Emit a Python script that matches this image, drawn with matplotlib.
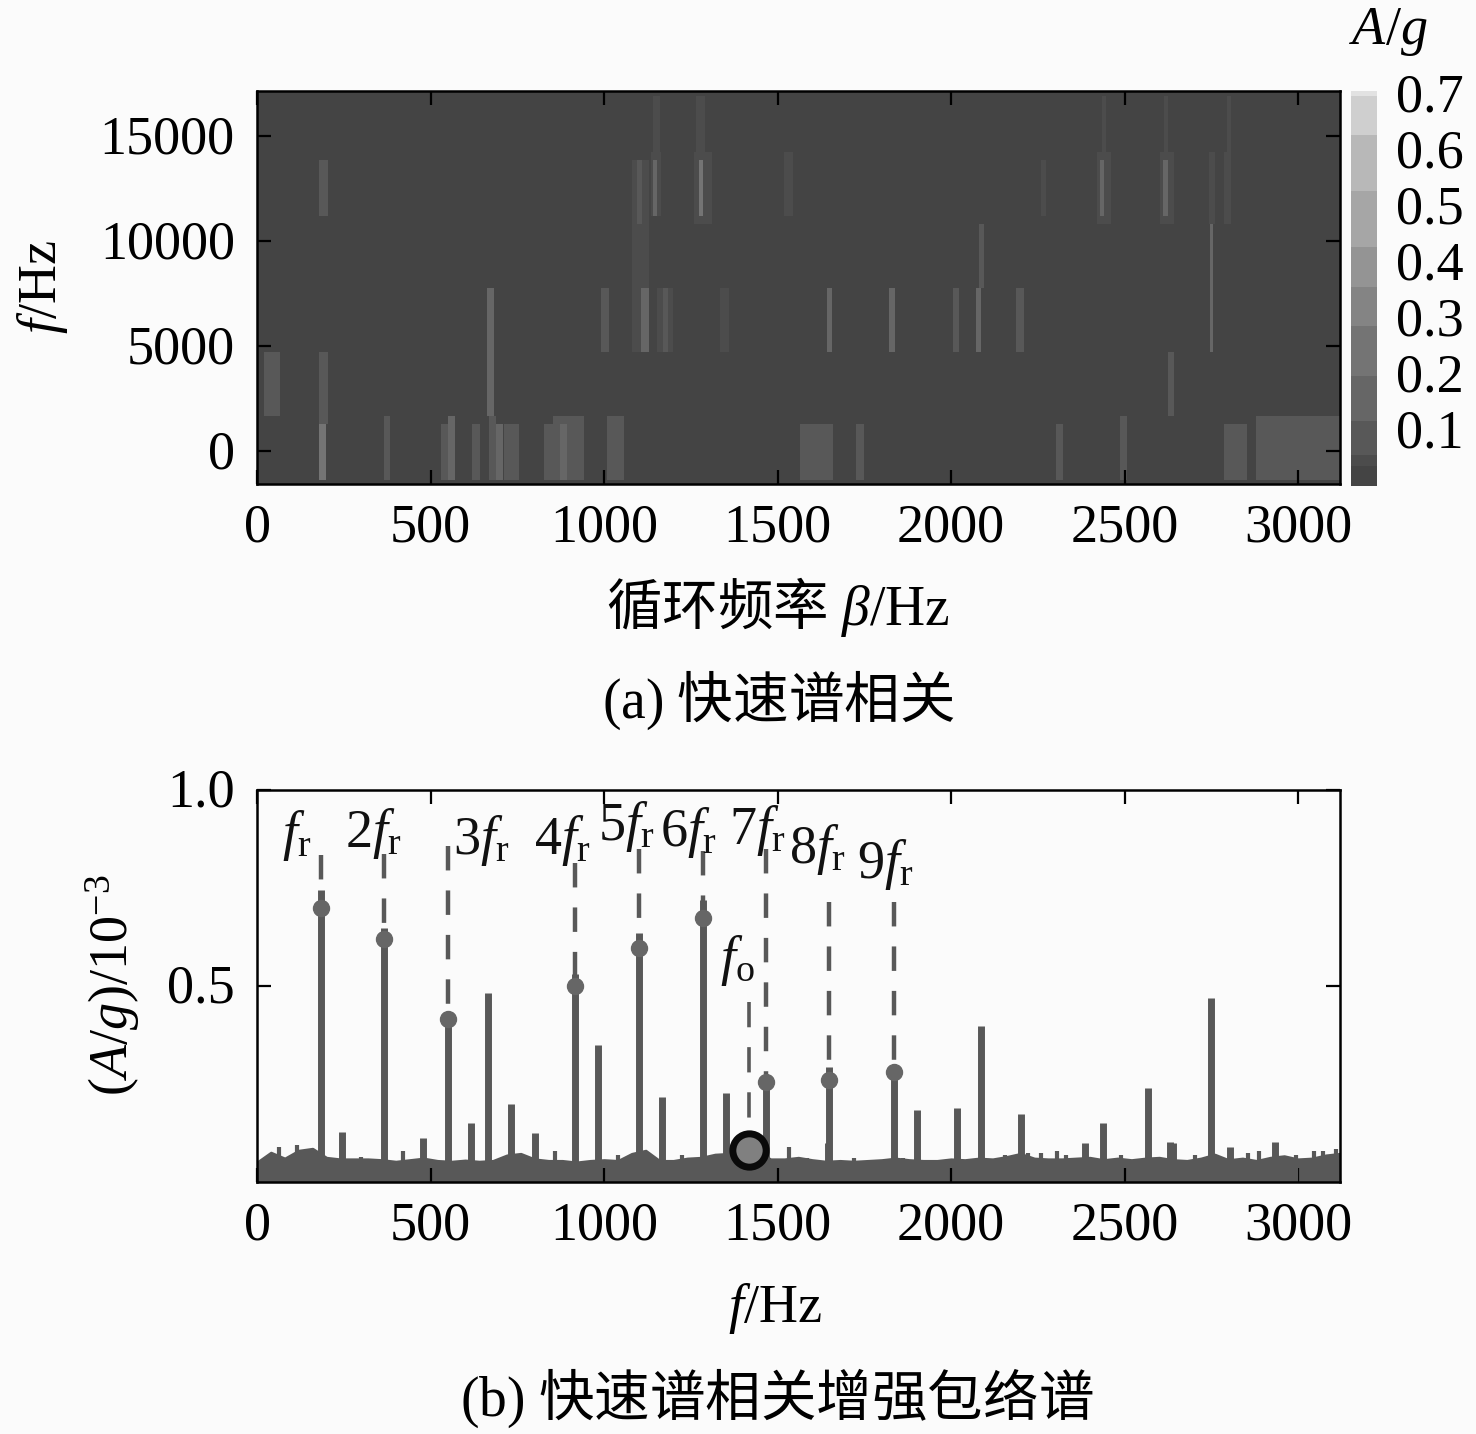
import numpy as np
import matplotlib
matplotlib.use("Agg")
import matplotlib.pyplot as plt
from matplotlib.colors import ListedColormap, BoundaryNorm
from matplotlib.transforms import ScaledTranslation

plt.rcParams['font.family'] = ['Liberation Serif', 'Noto Sans CJK SC']
plt.rcParams['mathtext.fontset'] = 'custom'
plt.rcParams['mathtext.rm'] = 'Liberation Serif'
plt.rcParams['mathtext.it'] = 'Liberation Serif:italic'
plt.rcParams['mathtext.sf'] = 'Noto Sans CJK SC'
plt.rcParams['mathtext.default'] = 'regular'
plt.rcParams['axes.unicode_minus'] = False

# ---------- colour scale ----------
level_edges = [0.0, 0.04, 0.06, 0.12, 0.20, 0.29, 0.36, 0.43, 0.53, 0.63, 0.70, 0.71]
level_greys = ['#444444', '#4c4c4c', '#585858', '#666666', '#747474', '#848484', '#949494',
               '#a6a6a6', '#b8b8b8', '#cfcfcf', '#e2e2e2']

# ---------- panel (a): spectral-correlation bars ----------
freq_top = 17140
freq_bottom = -1570
background_value = 0.03
bar_lo = [180, 1140, 1135, 1140, 1266, 1260, 1275, 1520, 1082, 1095,
          665, 990, 1082, 1108, 1152, 1170, 1335,
          20, 180, 178,
          366, 530, 550, 620, 668, 690, 712, 735, 828, 855, 872, 895, 1010,
          1565, 1726, 2304, 2487, 2788, 2879,
          2434, 2422, 2428, 2615, 2602, 2612, 2795, 2788, 2745, 2747, 2260,
          2080, 2072, 1642, 1820, 2006, 2188, 2627]
bar_hi = [204, 1160, 1165, 1152, 1290, 1310, 1285, 1545, 1130, 1110,
          682, 1015, 1130, 1130, 1200, 1185, 1360,
          66, 204, 200,
          384, 572, 572, 645, 690, 710, 735, 755, 852, 895, 895, 942, 1058,
          1660, 1748, 2325, 2509, 2854, 3125,
          2449, 2462, 2440, 2627, 2645, 2627, 2807, 2807, 2760, 2757, 2275,
          2095, 2086, 1656, 1841, 2025, 2211, 2645]
bar_f0 = [11190, 14238, 11190, 11190, 14238, 10810, 11190, 11190, 7762, 10810,
          1667, 4714, 4714, 4714, 4714, 4714, 4714,
          1667, 1285, -1380,
          -1380, -1380, -1380, -1380, -1380, -1380, -1380, -1380, -1380, -1380, -1380, -1380, -1380,
          -1380, -1380, -1380, -1380, -1380, -1380,
          14238, 10810, 11190, 14238, 10810, 11190, 14238, 10810, 10810, 4714, 11190,
          7762, 4714, 4714, 4714, 4714, 4714, 1667]
bar_f1 = [13857, 16900, 14238, 13857, 16900, 14238, 13857, 14238, 13857, 13857,
          7762, 7762, 7762, 7762, 7762, 7762, 7762,
          4714, 4714, 1285,
          1667, 1285, 1667, 1285, 1667, 1285, 1285, 1285, 1285, 1667, 1285, 1667, 1667,
          1285, 1285, 1285, 1667, 1285, 1667,
          16900, 14238, 13857, 16900, 14238, 13857, 16900, 14238, 14238, 10810, 13857,
          10810, 7762, 7762, 7762, 7762, 7762, 4714]
bar_val = [0.09, 0.05, 0.05, 0.14, 0.05, 0.05, 0.2, 0.05, 0.05, 0.07,
           0.14, 0.09, 0.05, 0.13, 0.05, 0.07, 0.05,
           0.09, 0.08, 0.25,
           0.10, 0.09, 0.12, 0.09, 0.09, 0.12, 0.09, 0.11, 0.09, 0.09, 0.13, 0.09, 0.09,
           0.09, 0.09, 0.08, 0.09, 0.09, 0.09,
           0.05, 0.05, 0.17, 0.05, 0.05, 0.15, 0.05, 0.05, 0.05, 0.14, 0.05,
           0.11, 0.13, 0.13, 0.13, 0.10, 0.10, 0.07]

# ---------- panel (b): enhanced envelope spectrum ----------
floor_f = list(range(0, 3121, 40))
floor_a = [.050, .075, .060, .080, .085, .062, .058, .058, .058, .056,
           .052, .056, .060, .054, .052, .055, .052, .054, .068, .072,
           .058, .054, .054, .050, .054, .056, .054, .072, .080, .054,
           .054, .060, .062, .070, .072, .068, .078, .058, .058, .062,
           .056, .052, .054, .052, .054, .056, .060, .056, .054, .054,
           .058, .056, .060, .058, .064, .072, .060, .058, .058, .060,
           .062, .056, .060, .056, .060, .062, .056, .054, .060, .070,
           .056, .060, .054, .062, .066, .058, .060, .068, .072]
spike_f = [183, 245, 366, 479, 549, 618, 666, 733, 800, 916, 984, 1101, 1168,
           1284, 1352, 1467, 1649, 1835, 1901, 2016, 2087, 2201, 2385, 2437,
           2568, 2632, 2640, 2750, 2805, 2933, 1645]
spike_a = [.745, .128, .648, .112, .434, .150, .482, .200, .125, .530, .350, .635, .217,
           .720, .227, .270, .293, .290, .184, .188, .398, .173, .100, .150,
           .240, .102, .100, .470, .090, .102, .100]
bump_f = [62, 114, 300, 422, 860, 1040, 1225, 1534, 1585, 1720, 1863, 2157, 2223, 2260,
          2306, 2332, 2491, 2702, 2856, 2887, 2995, 3047, 3072, 3110]
bump_a = [.090, .095, .065, .080, .080, .070, .070, .090, .060, .060, .060, .070, .075, .075,
          .080, .070, .070, .070, .075, .080, .070, .080, .080, .085]
harm_f = [183, 366, 549, 916, 1101, 1284, 1467, 1649, 1835]
harm_a = [.700, .620, .415, .500, .597, .673, .255, .260, .280]
harm_top = [.834, .838, .858, .815, .850, .845, .850, .715, .715]
fo_f = 1418
fo_a = 0.082
fo_top = 0.46
harm_labels = [r'$\mathit{f}_{\mathrm{r}}$', r'$2\mathit{f}_{\mathrm{r}}$', r'$3\mathit{f}_{\mathrm{r}}$',
               r'$4\mathit{f}_{\mathrm{r}}$', r'$5\mathit{f}_{\mathrm{r}}$', r'$6\mathit{f}_{\mathrm{r}}$',
               r'$7\mathit{f}_{\mathrm{r}}$', r'$8\mathit{f}_{\mathrm{r}}$', r'$9\mathit{f}_{\mathrm{r}}$']
label_f = [115, 335, 647, 880, 1065, 1243, 1440, 1615, 1810]
label_a = [.885, .890, .872, .872, .908, .892, .897, .847, .810]

# ---------- layout ----------
W, H = 1476, 1434
BG = '#fbfbfb'
FS = 39
INK = '#111111'
GREY = '#585858'

def box(x0, y0, x1, y1):
    return [x0 / W, 1 - y1 / H, (x1 - x0) / W, (y1 - y0) / H]

def px(x, y):
    return x / W, 1 - y / H

fig = plt.figure(figsize=(W / 100, H / 100), dpi=100, facecolor=BG)
XLIM = (0, 3121)
XT = [0, 500, 1000, 1500, 2000, 2500, 3000]

def place_label(ax, label, x, y, rotated=False):
    inv = ax.transAxes.inverted().transform(fig.transFigure.transform(px(x, y)))
    label.set_va('center')
    label.set_ha('center')
    if rotated:
        ax.yaxis.set_label_coords(*inv)
    else:
        ax.xaxis.set_label_coords(*inv)

def lift_yticklabels(ax, pixels):
    shift = ScaledTranslation(0, pixels / 100, fig.dpi_scale_trans)
    for lab in ax.get_yticklabels():
        lab.set_transform(lab.get_transform() + shift)

def style(ax):
    ax.set_xlim(*XLIM)
    ax.set_xticks(XT)
    ax.tick_params(axis='both', which='major', direction='in', length=10, width=1.6,
                   top=True, right=True, labelsize=FS, colors='black', pad=14)
    ax.tick_params(axis='y', pad=16)
    for s in ax.spines.values():
        s.set_linewidth(1.8)
        s.set_color('black')

# panel (a)
cmap = ListedColormap(level_greys)
norm = BoundaryNorm(level_edges, cmap.N)
ax1 = fig.add_axes(box(257, 91, 1340, 484))
beta_edges = np.arange(0, 3122, 2.0)
f_edges = np.array(sorted({freq_bottom, freq_top, *bar_f0, *bar_f1}), dtype=float)
beta_c = (beta_edges[:-1] + beta_edges[1:]) / 2
f_c = (f_edges[:-1] + f_edges[1:]) / 2
Z = np.full((f_c.size, beta_c.size), background_value)
for lo, hi, f0, f1, v in zip(bar_lo, bar_hi, bar_f0, bar_f1, bar_val):
    sel = np.ix_((f_c > f0) & (f_c < f1), (beta_c >= lo) & (beta_c < hi))
    Z[sel] = np.maximum(Z[sel], v)
ax1.pcolormesh(beta_edges, f_edges, Z, cmap=cmap, norm=norm, shading='flat', rasterized=True)
style(ax1)
ax1.set_ylim(freq_bottom, freq_top)
ax1.set_yticks([0, 5000, 10000, 15000])
lift_yticklabels(ax1, 2)
ax1.set_ylabel(r'$\mathit{f}/\mathrm{Hz}$', fontsize=FS)
place_label(ax1, ax1.yaxis.label, 42, 287, rotated=True)
ax1.set_xlabel(r'$\mathsf{循环频率}\ \mathit{\beta}/\mathrm{Hz}$', fontsize=FS + 1)
place_label(ax1, ax1.xaxis.label, 778, 607)

# colour bar
cax = fig.add_axes(box(1351, 91, 1377, 486))
sm = plt.cm.ScalarMappable(norm=norm, cmap=cmap)
cb = fig.colorbar(sm, cax=cax, ticks=[0.1, 0.2, 0.3, 0.4, 0.5, 0.6, 0.7], spacing='proportional')
cb.ax.set_ylim(0.004, 0.709)
cb.ax.minorticks_off()
cb.ax.tick_params(length=0, labelsize=FS, pad=14)
cb.outline.set_visible(False)
lift_yticklabels(cb.ax, 4)
fig.text(*px(1388, 32), r'$\mathit{A/g}$', fontsize=FS, ha='center', va='center')

fig.text(*px(778, 700), r'$\mathrm{(a)}\ \mathsf{快速谱相关}$', fontsize=FS + 1, ha='center', va='center')

# panel (b)
ax2 = fig.add_axes(box(257, 790, 1340, 1182))
ax2.set_facecolor(BG)
ax2.fill_between(floor_f, 0, floor_a, color=GREY, lw=2)
ax2.vlines(bump_f, 0, bump_a, color=GREY, lw=3)
ax2.vlines(spike_f, 0, spike_a, color=GREY, lw=5)
ax2.vlines(harm_f, harm_top, harm_a, color=GREY, lw=3.2, linestyles=(0, (5.5, 4.5)))
ax2.vlines([fo_f], fo_top, fo_a, color=GREY, lw=2.6, linestyles=(0, (7, 5.5)))
ax2.plot(harm_f, harm_a, 'o', ms=11.5, color='#666666', mec='#666666')
ax2.plot([fo_f], [fo_a], 'o', ms=24, mfc='#808080', mec='#0a0a0a', mew=5)
for s, x, y in zip(harm_labels, label_f, label_a):
    ax2.text(x, y, s, fontsize=FS, ha='center', va='center', color=INK)
ax2.text(1385, 0.565, r'$\mathit{f}_{\mathrm{o}}$', fontsize=FS, ha='center', va='center', color=INK)
style(ax2)
ax2.set_ylim(0, 1)
ax2.set_yticks([0.5, 1.0])
ax2.set_yticklabels(['0.5', '1.0'])
lift_yticklabels(ax2, 3)
ax2.set_ylabel(r'$(\mathit{A/g})/10^{-3}$', fontsize=FS)
place_label(ax2, ax2.yaxis.label, 113, 985, rotated=True)
ax2.set_xlabel(r'$\mathit{f}/\mathrm{Hz}$', fontsize=FS)
place_label(ax2, ax2.xaxis.label, 775, 1308)
fig.text(*px(777, 1398), r'$\mathrm{(b)}\ \mathsf{快速谱相关增强包络谱}$', fontsize=FS + 1, ha='center', va='center')

fig.savefig('out.png', dpi=100, facecolor=BG)
